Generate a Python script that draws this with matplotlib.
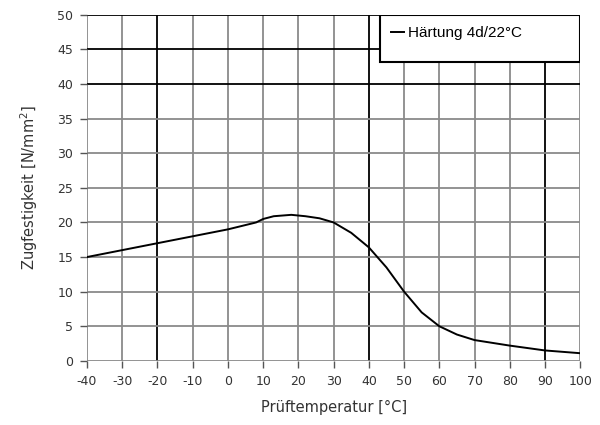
import matplotlib
matplotlib.use('Agg')
import matplotlib.pyplot as plt
from matplotlib.patches import Rectangle

plt.rcParams['font.family'] = ['DejaVu Sans']
plt.rcParams['axes.unicode_minus'] = False

# Messwerte: Zugfestigkeit über Prüftemperatur
temp = [-40, -30, -20, -10, 0, 8, 10, 13, 18, 22, 26, 30, 35, 40, 45, 50, 55, 60, 65, 70, 80, 90, 100]
zug = [15.0, 16.0, 17.0, 18.0, 19.0, 20.0, 20.5, 20.9, 21.1, 20.9, 20.6, 20.0, 18.5, 16.4, 13.5, 10.0, 7.0, 5.0, 3.8, 3.0, 2.2, 1.5, 1.1]

x_ticks = list(range(-40, 101, 10))
y_ticks = list(range(0, 51, 5))
dark_x = [-20, 40, 90]
dark_y = [40, 45, 50]

fig = plt.figure(figsize=(6, 4.25), dpi=100)
ax = fig.add_axes([0.145, 0.151, 0.822, 0.814])

# Gitter
for xv in x_ticks:
    ax.axvline(xv, color='black' if xv in dark_x else '#8a8a8a', lw=1.3, zorder=1)
for yv in y_ticks:
    ax.axhline(yv, color='black' if yv in dark_y else '#8a8a8a', lw=1.3, zorder=1)

line, = ax.plot(temp, zug, color='black', lw=1.4, zorder=3, label='Härtung 4d/22°C')

ax.set_xlim(-40, 100)
ax.set_ylim(0, 50)
ax.set_xticks(x_ticks)
ax.set_yticks(y_ticks)
ax.tick_params(direction='out', length=5, width=1, color='#555555',
               labelsize=9, labelcolor='#333333', pad=5)
for s in ax.spines.values():
    s.set_visible(False)

ax.set_xlabel('Prüftemperatur [°C]', fontsize=10.5, color='#333333', labelpad=9)
ax.set_ylabel('Zugfestigkeit [N/mm$^2$]', fontsize=10.5, color='#333333', labelpad=12)

# Legendenkasten
ax.add_patch(Rectangle((0.594, 0.865), 0.406, 0.135, transform=ax.transAxes,
                       facecolor='white', edgecolor='black', lw=1.5, zorder=5))
leg = ax.legend(handles=[line], loc='upper left', bbox_to_anchor=(0.594, 1.0),
                frameon=False, prop={'family': 'Liberation Sans', 'size': 11},
                handlelength=0.8, handletextpad=0.3, borderaxespad=0.35)
leg.set_zorder(6)

fig.savefig('out.png', dpi=100)
